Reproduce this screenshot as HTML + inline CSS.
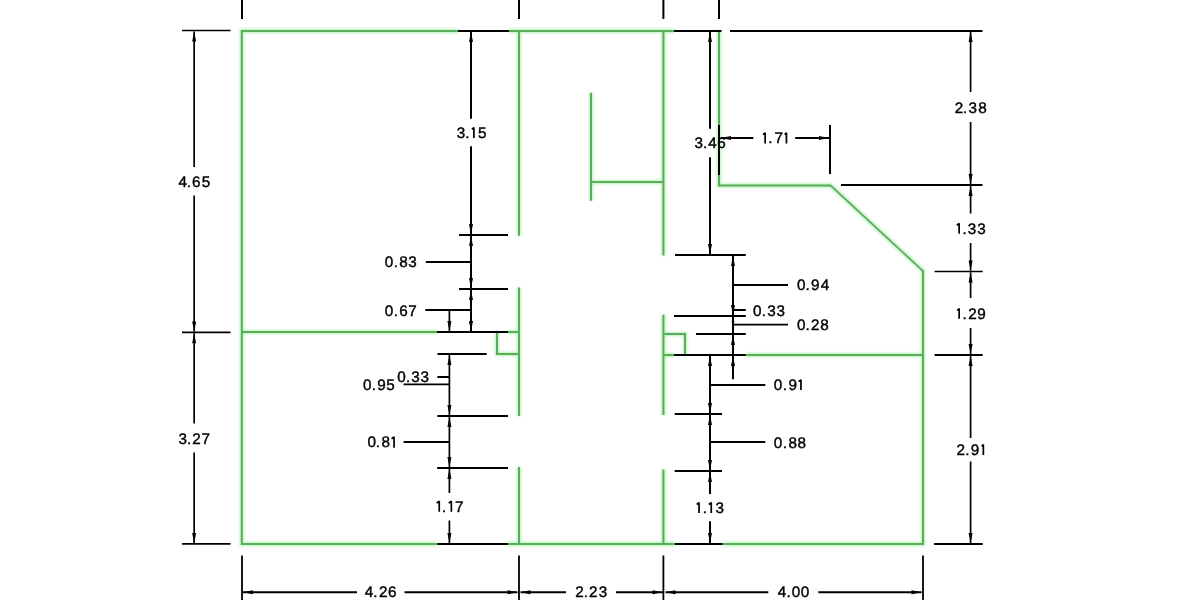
<!DOCTYPE html>
<html><head><meta charset="utf-8"><style>
html,body{margin:0;padding:0;background:#fff;}
body{width:1200px;height:600px;overflow:hidden;}
svg{display:block;}
text{font-family:"Liberation Sans",sans-serif;font-size:15.25px;fill:#000;stroke:#000;stroke-width:0.4px;text-rendering:geometricPrecision;}
.h{fill:none;stroke:none;}
</style></head><body>
<svg width="1200" height="600" viewBox="0 0 1200 600">
<rect width="1200" height="600" fill="#fff"/>
<defs><filter id="gs"><feColorMatrix type="saturate" values="0"/></filter><filter id="bl" x="-5%" y="-5%" width="110%" height="110%"><feGaussianBlur stdDeviation="1.3"/></filter></defs>
<path d="M437.2 544L241.8 544L241.8 31L458 31M509 31L674 31M719 30L719 185.4L831.0 185.4M830.5 185.4L923.4 271.4M923 270.2L923 544L722.7 544M508 544L675 544M241.8 332L437 332M508 332L519 332M519 30L519 235.8M519 287.5L519 416M519 467L519 545M663.4 30L663.4 255.5M663.4 314.7L663.4 415M663.4 469.6L663.4 545M497 331L497 354L519 354M663.4 334L685 334L685 356M663.4 355L674 355M745.8 355L924 355M591 92.7L591 200.8M591 182L664.4 182" stroke="#bff3bf" stroke-width="4.5" fill="none" stroke-linecap="butt" filter="url(#bl)"/>
<path d="M437.2 544L241.8 544L241.8 31L458 31M509 31L674 31M719 30L719 185.4L831.0 185.4M923 270.2L923 544L722.7 544M508 544L675 544M241.8 332L437 332M508 332L519 332M519 30L519 235.8M519 287.5L519 416M519 467L519 545M663.4 30L663.4 255.5M663.4 314.7L663.4 415M663.4 469.6L663.4 545M497 331L497 354L519 354M663.4 334L685 334L685 356M663.4 355L674 355M745.8 355L924 355M591 92.7L591 200.8M591 182L664.4 182" stroke="#5aae5a" stroke-width="2.0" fill="none" stroke-linecap="butt" stroke-linejoin="miter"/>
<path d="M830.5 185.4L923.4 271.4" stroke="#5aa85a" stroke-width="1.6" fill="none"/>
<path d="M242 0L242 19M519 0L519 19M663.4 0L663.4 19M719 0L719 19M458 31L509 31M674 31L721.5 31M730 31L982.5 31M471 32L471 118.75M471 146.25L471 234M459 235L508 235M471 236L471 288M425.8 262L471 262M459 289L508 289M471 290L471 331M425.3 310L471 310M437 332L508 332M437.5 354L486.7 354M437.4 377L449.4 377M437.4 416L508 416M403.6 442L449.4 442M437.2 468L508 468M437.2 544L508 544M710 32L710 128.7M710 157.3L710 254M675 255L745.8 255M733 256L733 315M733 285L788 285M733 310L745.8 310M674 316L745.8 316M733 316L733 379.3M696 334L745.8 334M674 355L745.8 355M710 356L710 413M710 385L765.3 385M674.7 414L722 414M710 415L710 470M710 442L765.3 442M674.7 471L722 471M710 472L710 494M710 521.3L710 543M675 544L722.7 544M721 138L753.3 138M795.2 138L829 138M830 125L830 174M719 125L719 175M841 185L982.5 185M934.6 355L982.7 355M934 544L982.7 544" stroke="#000" stroke-width="2.0" fill="none"/>
<path d="M182 30.5L230.5 30.5M182 332.4L230.5 332.4" stroke="#000" stroke-width="1.6" fill="none"/>
<path d="M182 543.8L230.5 543.8M194.15 31.5L194.15 167M194.15 195.5L194.15 331.5M194.15 333.2L194.15 423.5M194.15 452.5L194.15 543M449.4 310L449.4 331M449.4 355L449.4 415M449.4 417L449.4 467M449.4 469L449.4 493M449.4 520.5L449.4 543M970.6 32L970.6 92M970.6 122L970.6 184M970.6 186L970.6 213.5M970.6 243L970.6 270.5M934.6 271.5L982.7 271.5M970.6 272.5L970.6 298M970.6 328L970.6 354M970.6 356L970.6 438M970.6 461.6L970.6 543" stroke="#000" stroke-width="1.7" fill="none"/>
<path d="M242 555.5L242 600M519 555.5L519 600M663.4 555.5L663.4 600M923 555.5L923 600M243 592.25L357 592.25M404.5 592.25L517.5 592.25M520.5 592.25L566 592.25M616 592.25L662.5 592.25M665.5 592.25L768.3 592.25M818.3 592.25L921.5 592.25M403.6 384.4L449.4 384.4M733 324.7L788 324.7" stroke="#000" stroke-width="1.8" fill="none"/>
<path d="M194.15 31.50L192.15 41.50L196.15 41.50ZM194.15 331.50L192.15 321.50L196.15 321.50ZM194.15 333.20L192.15 343.20L196.15 343.20ZM194.15 543.00L192.15 533.00L196.15 533.00ZM243.00 592.25L253.00 590.25L253.00 594.25ZM517.50 592.25L507.50 590.25L507.50 594.25ZM520.50 592.25L530.50 590.25L530.50 594.25ZM662.50 592.25L652.50 590.25L652.50 594.25ZM665.50 592.25L675.50 590.25L675.50 594.25ZM921.50 592.25L911.50 590.25L911.50 594.25ZM471.00 32.00L469.00 42.00L473.00 42.00ZM471.00 234.00L469.00 224.00L473.00 224.00ZM471.00 236.00L469.00 246.00L473.00 246.00ZM471.00 288.00L469.00 278.00L473.00 278.00ZM471.00 290.00L469.00 300.00L473.00 300.00ZM471.00 331.00L469.00 321.00L473.00 321.00ZM449.40 331.00L447.40 321.00L451.40 321.00ZM449.40 355.00L447.40 365.00L451.40 365.00ZM449.40 415.00L447.40 405.00L451.40 405.00ZM449.40 417.00L447.40 427.00L451.40 427.00ZM449.40 467.00L447.40 457.00L451.40 457.00ZM449.40 469.00L447.40 479.00L451.40 479.00ZM449.40 543.00L447.40 533.00L451.40 533.00ZM710.00 32.00L708.00 42.00L712.00 42.00ZM710.00 254.00L708.00 244.00L712.00 244.00ZM733.00 256.00L731.00 266.00L735.00 266.00ZM733.00 315.00L731.00 305.00L735.00 305.00ZM733.00 335.00L731.00 345.00L735.00 345.00ZM733.00 356.00L731.00 366.00L735.00 366.00ZM733.00 325.50L731.50 321.00L734.50 321.00ZM710.00 356.00L708.00 366.00L712.00 366.00ZM710.00 413.00L708.00 403.00L712.00 403.00ZM710.00 415.00L708.00 425.00L712.00 425.00ZM710.00 470.00L708.00 460.00L712.00 460.00ZM710.00 472.00L708.00 482.00L712.00 482.00ZM710.00 543.00L708.00 533.00L712.00 533.00ZM721.00 138.00L731.00 136.00L731.00 140.00ZM829.00 138.00L819.00 136.00L819.00 140.00ZM970.60 32.00L968.60 42.00L972.60 42.00ZM970.60 184.00L968.60 174.00L972.60 174.00ZM970.60 186.00L968.60 196.00L972.60 196.00ZM970.60 270.50L968.60 260.50L972.60 260.50ZM970.60 272.50L968.60 282.50L972.60 282.50ZM970.60 354.00L968.60 344.00L972.60 344.00ZM970.60 356.00L968.60 366.00L972.60 366.00ZM970.60 543.00L968.60 533.00L972.60 533.00Z" fill="#000"/>
<g filter="url(#gs)">
<text x="178.52 186.83 191.96 201.82" y="186.50">4.65</text>
<text x="178.55 187.03 192.26 201.60" y="443.50">3.27</text>
<text x="364.86 373.28 379.11 387.96" y="597.40">4.26</text>
<text x="575.28 583.83 589.11 598.65" y="597.40">2.23</text>
<text x="777.81 786.38 791.68 800.81" y="597.40">4.00</text>
<text x="456.75 465.13 468.53 478.12" y="137.90">3.<tspan class="h">1</tspan>5</text>
<text x="384.73 393.73 399.28 408.18" y="267.40">0.83</text>
<text x="384.81 393.68 399.16 408.23" y="315.70">0.67</text>
<text x="397.31 406.03 411.15 420.45" y="382.00">0.33</text>
<text x="363.11 371.68 377.21 386.37" y="389.80">0.95</text>
<text x="367.48 375.83 381.51 388.43" y="447.45">0.8<tspan class="h">1</tspan></text>
<text x="433.55 441.98 445.65 455.10" y="511.60"><tspan class="h">1</tspan>.<tspan class="h">1</tspan>7</text>
<text x="694.45 702.88 708.31 717.21" y="147.60">3.46</text>
<text x="796.91 805.61 810.99 820.71" y="290.30">0.94</text>
<text x="752.96 761.68 767.15 776.38" y="315.70">0.33</text>
<text x="797.11 805.58 810.96 820.16" y="329.80">0.28</text>
<text x="773.76 782.68 788.41 795.40" y="389.80">0.9<tspan class="h">1</tspan></text>
<text x="773.66 782.68 788.56 797.46" y="447.70">0.88</text>
<text x="693.50 702.78 705.68 715.53" y="512.70"><tspan class="h">1</tspan>.<tspan class="h">1</tspan>3</text>
<text x="759.70 768.33 774.40 781.20" y="143.20"><tspan class="h">1</tspan>.7<tspan class="h">1</tspan></text>
<text x="954.66 962.88 968.55 978.21" y="112.80">2.38</text>
<text x="953.55 962.38 967.75 977.30" y="233.50"><tspan class="h">1</tspan>.33</text>
<text x="953.80 962.58 968.16 977.21" y="318.50"><tspan class="h">1</tspan>.29</text>
<text x="956.61 965.18 970.76 978.15" y="454.80">2.9<tspan class="h">1</tspan></text>
</g>
<path d="M471.90 129.40L473.90 127.50L473.90 138.10M391.55 438.75L394.05 436.85L394.05 447.65M436.60 503.10L439.25 501.20L439.25 511.80M448.70 503.10L451.35 501.20L451.35 511.80M798.60 381.70L800.95 379.80L800.95 390.00M696.70 504.50L699.05 502.60L699.05 512.90M708.85 504.50L711.25 502.60L711.25 512.90M763.00 134.70L765.15 132.80L765.15 143.40M784.70 134.70L786.45 132.80L786.45 143.40M956.70 225.30L959.15 223.40L959.15 233.70M957.20 310.50L959.15 308.60L959.15 318.70M981.70 446.50L983.35 444.60L983.35 455.00" stroke="#000" stroke-width="1.7" fill="none" stroke-linejoin="bevel"/>
</svg>
</body></html>
